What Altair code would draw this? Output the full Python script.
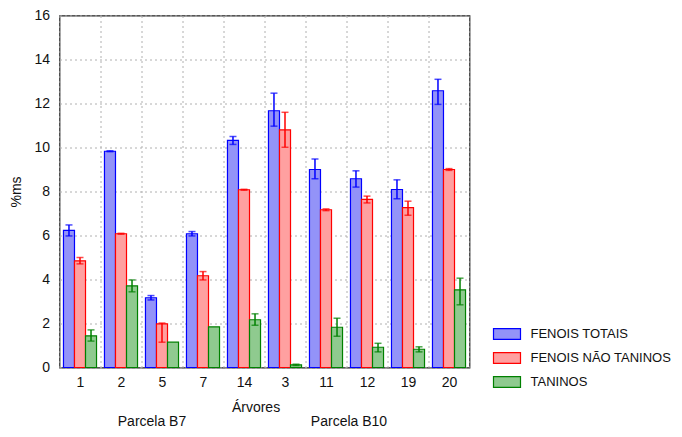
import altair as alt
import pandas as pd

arvores = ["1", "2", "5", "7", "14", "3", "11", "12", "19", "20"]
series = ["FENOIS TOTAIS", "FENOIS NÃO TANINOS", "TANINOS"]

fenois_totais = [6.23, 9.83, 3.17, 6.08, 10.32, 11.67, 9.00, 8.58, 8.09, 12.58]
ft_lo = [0.25, 0.02, 0.10, 0.10, 0.18, 0.70, 0.42, 0.38, 0.42, 0.62]
ft_hi = [0.25, 0.02, 0.10, 0.10, 0.18, 0.80, 0.48, 0.36, 0.44, 0.52]

fenois_nao_taninos = [4.85, 6.08, 1.98, 4.17, 8.08, 10.80, 7.17, 7.64, 7.27, 9.00]
fnt_lo = [0.14, 0.02, 0.83, 0.19, 0.02, 0.79, 0.04, 0.16, 0.35, 0.04]
fnt_hi = [0.15, 0.02, 0.04, 0.19, 0.02, 0.80, 0.04, 0.15, 0.29, 0.04]

taninos = [1.44, 3.71, 1.15, 1.85, 2.17, 0.12, 1.83, 0.92, 0.83, 3.53]
tan_lo = [0.24, 0.27, 0.0, 0.0, 0.25, 0.03, 0.41, 0.21, 0.12, 0.68]
tan_hi = [0.27, 0.27, 0.0, 0.0, 0.27, 0.03, 0.41, 0.18, 0.11, 0.53]

parcelas = ["Parcela B7", "Parcela B10"]
parcela_pos = ["5", "12"]

fill_colors = ["#9393f8", "#ffa0a0", "#8fca8f"]
line_colors = ["#0000ff", "#ff0000", "#008000"]

rows = []
for s, vals, lo, hi in [
    (series[0], fenois_totais, ft_lo, ft_hi),
    (series[1], fenois_nao_taninos, fnt_lo, fnt_hi),
    (series[2], taninos, tan_lo, tan_hi),
]:
    for a, v, l, h in zip(arvores, vals, lo, hi):
        rows.append({"arvore": a, "serie": s, "valor": v,
                     "lo": round(v - l, 3), "hi": round(v + h, 3),
                     "has_err": (l + h) > 0})
df = pd.DataFrame(rows)

W, H = 410, 352
FONT = "Liberation Sans"
FS = 14

x = alt.X("arvore:N", sort=arvores,
          scale=alt.Scale(paddingInner=0, paddingOuter=0),
          axis=alt.Axis(title="Árvores", tickBand="extent", grid=True,
                        gridDash=[2, 3], gridColor="#b0b0b0", gridWidth=1,
                        ticks=False, domain=False, labelAngle=0,
                        labelPadding=8, labelFontSize=FS, labelFont=FONT,
                        labelColor="#111", titleFont=FONT, titleFontSize=FS,
                        titleFontWeight="normal", titleColor="#111",
                        titlePadding=11, titleX=196, titleAnchor="middle"))
xo = alt.XOffset("serie:N", sort=series,
                 scale=alt.Scale(paddingInner=0, paddingOuter=0.36))

base = alt.Chart(df)

bars = base.mark_bar(strokeWidth=1.2).encode(
    x=x, xOffset=xo,
    y=alt.Y("valor:Q", scale=alt.Scale(domain=[0, 16], nice=False),
            axis=alt.Axis(title="%ms", values=list(range(0, 17, 2)),
                          grid=True, gridDash=[2, 3], gridColor="#b0b0b0",
                          ticks=False, domain=False, labelPadding=10,
                          labelFontSize=FS, labelFont=FONT, labelColor="#111",
                          titleFont=FONT, titleFontSize=FS,
                          titleFontWeight="normal", titleColor="#111",
                          titlePadding=10)),
    fill=alt.Fill("serie:N", sort=series,
                  scale=alt.Scale(domain=series, range=fill_colors),
                  legend=alt.Legend(title=None, orient="none", legendX=441,
                                    legendY=312,
                                    symbolType="M-2.5,-1H2.5V1H-2.5Z",
                                    symbolSize=116.6, symbolStrokeWidth=1.2,
                                    labelFontSize=13, labelFont=FONT,
                                    labelColor="#111", labelOffset=17,
                                    labelLimit=400,
                                    rowPadding=7, padding=0)),
    stroke=alt.Stroke("serie:N", sort=series,
                      scale=alt.Scale(domain=series, range=line_colors)),
)

err = base.transform_filter("datum.has_err")
ecolor = alt.Color("serie:N", sort=series,
                   scale=alt.Scale(domain=series, range=line_colors),
                   legend=None)
rules = err.mark_rule(strokeWidth=1.5).encode(
    x=x, xOffset=xo, y="lo:Q", y2="hi:Q", color=ecolor)
cap_lo = err.mark_tick(size=7, thickness=1.5).encode(
    x=x, xOffset=xo, y="lo:Q", color=ecolor)
cap_hi = err.mark_tick(size=7, thickness=1.5).encode(
    x=x, xOffset=xo, y="hi:Q", color=ecolor)

pdf = pd.DataFrame({"arvore": parcela_pos, "label": parcelas})
t1 = alt.Chart(pdf.iloc[[0]]).mark_text(font=FONT, fontSize=FS, color="#111",
                                        dx=-10).encode(
    x=alt.X("arvore:N", sort=arvores), y=alt.value(H + 54), text="label:N")
t2 = alt.Chart(pdf.iloc[[1]]).mark_text(font=FONT, fontSize=FS, color="#111",
                                        dx=-18).encode(
    x=alt.X("arvore:N", sort=arvores), y=alt.value(H + 54), text="label:N")

chart = alt.layer(bars, rules, cap_lo, cap_hi, t1, t2).properties(
    width=W, height=H,
    autosize=alt.AutoSizeParams(type="none"),
    padding={"left": 51.5, "top": 7.5, "right": 204.5, "bottom": 61.5},
).configure_view(stroke="#222", strokeWidth=1.2)

chart.save("out.html", embed_options={"renderer": "svg", "actions": False})
